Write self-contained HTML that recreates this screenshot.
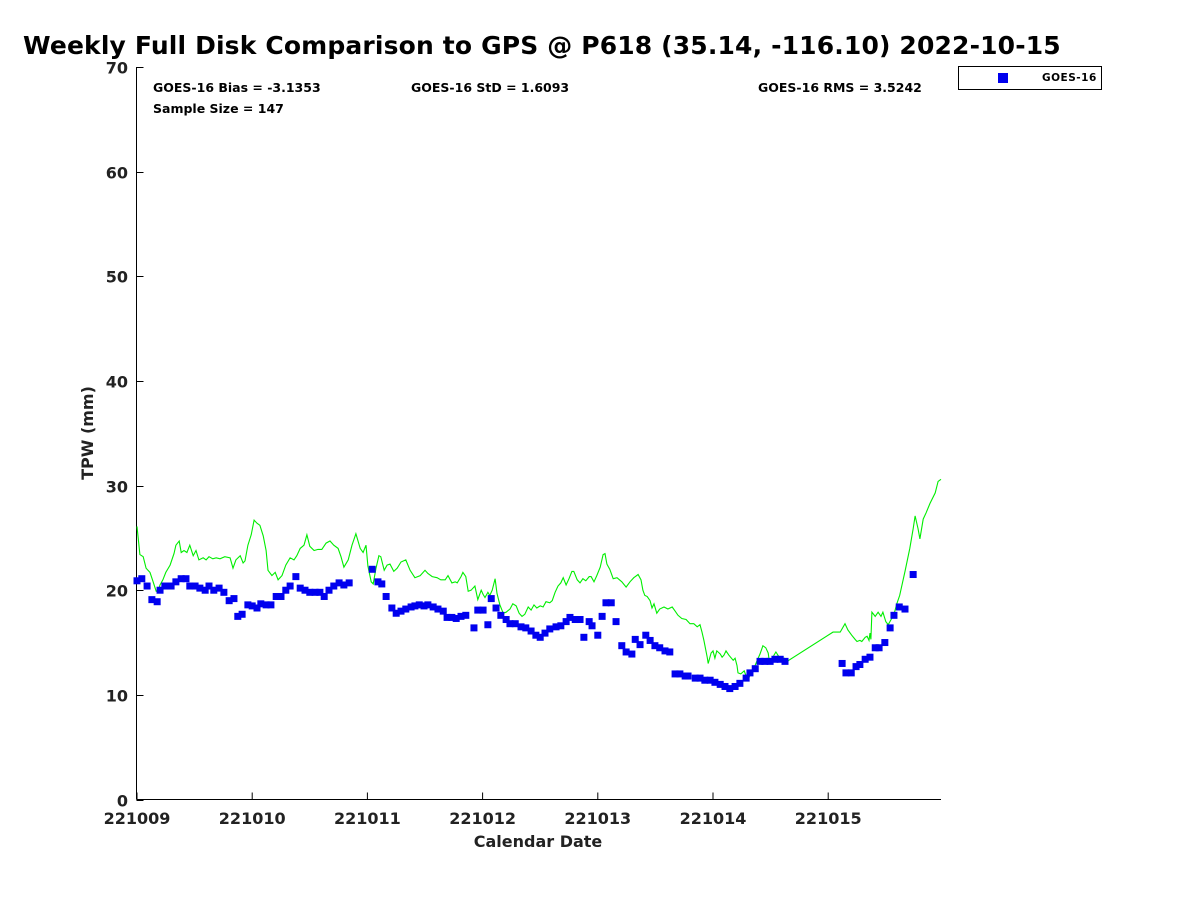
<!DOCTYPE html>
<html><head><meta charset="utf-8">
<style>
html,body{margin:0;padding:0;background:#fff;}
svg{display:block;font-family:"DejaVu Sans","Liberation Sans",sans-serif;font-weight:bold;}
</style></head>
<body>
<svg id="chart" width="1200" height="900" viewBox="0 0 1200 900">
<text x="23" y="54" font-size="25" letter-spacing="0.15" fill="#000">Weekly Full Disk Comparison to GPS @ P618 (35.14, -116.10) 2022-10-15</text>
<g id="axes"></g>
<g id="series"></g>
<text x="153" y="92" font-size="12.5">GOES-16 Bias = -3.1353</text>
<text x="153" y="113" font-size="12.5">Sample Size = 147</text>
<text x="411" y="92" font-size="12.5">GOES-16 StD = 1.6093</text>
<text x="758" y="92" font-size="12.5">GOES-16 RMS = 3.5242</text>
<g>
<rect x="958.5" y="66.5" width="143" height="23" fill="#fff" stroke="#000" stroke-width="1"/>
<rect x="998" y="73" width="10" height="10" fill="#0000ee"/>
<text x="1042" y="81" font-size="10.5" letter-spacing="0.5">GOES-16</text>
</g>
<text x="538" y="847" font-size="16" text-anchor="middle" fill="#222">Calendar Date</text>
<text transform="translate(93,433) rotate(-90)" font-size="16" text-anchor="middle" fill="#222">TPW (mm)</text>
</svg>
<script>
const xTickLabels = ["221009","221010","221011","221012","221013","221014","221015"];
const yTickValues = [0,10,20,30,40,50,60,70];
// GOES-16 retrievals: hours since 2022-10-09 00Z, TPW mm
const goesHours = [0,1.0,2.1,3.1,4.2,4.8,5.8,7.1,8.1,9.2,10.2,11.0,12.1,13.1,14.2,15.0,16.0,17.1,18.1,19.2,20.2,21.0,21.9,23.1,24.0,25.0,25.8,26.9,27.9,29.0,30.0,31.0,31.9,33.1,34.0,35.0,36.0,37.1,38.1,39.0,40.0,41.0,42.1,43.1,44.2,
49.0,50.2,51.0,51.9,53.1,54.0,55.0,56.0,57.1,57.9,58.8,59.8,60.6,61.7,62.7,63.8,64.6,65.6,66.5,67.5,68.5,70.2,71.0,72.1,73.1,73.8,74.8,75.8,76.9,77.7,78.8,80.0,81.0,82.1,83.1,84.0,85.0,86.0,87.3,88.3,89.4,90.2,91.3,92.3,93.1,94.2,94.8,96.0,96.9,97.7,98.8,99.8,101.0,101.9,103.1,103.8,104.8,106.0,106.9,107.9,108.9,110.0,111.0,112.1,113.1,114.2,114.8,116.3,117.3,118.3,119.4,120.4,121.5,122.5,123.5,124.6,125.6,126.9,127.7,128.8,129.8,130.8,131.9,132.9,134.0,135.0,
146.9,147.7,148.8,149.8,150.6,151.7,152.7,153.8,154.6,155.8,156.9,157.7,158.8,160.0,161.7];
const goesTpw = [20.9,21.1,20.4,19.1,18.9,20.0,20.4,20.4,20.8,21.1,21.1,20.4,20.4,20.2,20.0,20.4,20.0,20.2,19.8,19.0,19.2,17.5,17.7,18.6,18.5,18.3,18.7,18.6,18.6,19.4,19.4,20.0,20.4,21.3,20.2,20.0,19.8,19.8,19.8,19.4,20.0,20.4,20.7,20.5,20.7,
22.0,20.8,20.6,19.4,18.3,17.8,18.0,18.2,18.4,18.5,18.6,18.5,18.6,18.4,18.2,18.0,17.4,17.4,17.3,17.5,17.6,16.4,18.1,18.1,16.7,19.2,18.3,17.6,17.2,16.8,16.8,16.5,16.4,16.1,15.7,15.5,15.9,16.3,16.5,16.6,17.0,17.4,17.2,17.2,15.5,17.0,16.6,15.7,17.5,18.8,18.8,17.0,14.7,14.1,13.9,15.3,14.8,15.7,15.2,14.7,14.5,14.2,14.1,12.0,12.0,11.8,11.8,11.6,11.6,11.4,11.4,11.2,11.0,10.8,10.6,10.8,11.1,11.6,12.1,12.5,13.2,13.2,13.2,13.4,13.4,13.2,
13.0,12.1,12.1,12.7,12.9,13.4,13.6,14.5,14.5,15.0,16.4,17.6,18.4,18.2,21.5];
// GPS TPW line
const gpsHours = [0,0.6,1.3,1.9,2.7,3.3,4.0,4.4,4.8,5.4,6.0,6.9,7.7,8.1,8.8,9.2,9.8,10.4,11.0,11.7,12.3,12.9,13.8,14.4,15.0,15.8,16.5,17.3,18.3,19.4,20.0,20.6,21.5,22.1,22.5,23.1,23.8,24.4,25.0,25.6,26.3,26.9,27.3,28.1,28.8,29.4,30.2,31.0,31.9,32.7,33.3,34.0,34.8,35.4,36.0,36.9,37.7,38.5,39.4,40.2,41.0,41.9,42.5,43.1,44.0,44.8,45.6,46.5,47.1,47.7,48.1,48.8,49.2,49.8,50.4,50.8,51.5,52.1,52.7,53.5,54.2,55.0,56.0,56.9,57.9,59.0,60.0,60.6,61.5,62.5,63.3,64.2,64.8,65.6,66.3,66.7,67.5,67.9,68.5,69.0,69.6,70.4,71.0,71.7,72.1,72.5,73.1,73.5,74.0,74.6,75.0,75.6,76.3,76.9,77.7,78.3,79.0,79.6,80.2,80.8,81.5,82.1,82.7,83.3,84.0,84.6,85.2,86.0,86.5,87.1,87.7,88.3,88.8,89.4,90.0,90.6,91.0,91.7,92.3,92.9,93.5,94.2,94.6,95.2,95.8,96.5,97.1,97.5,97.9,98.5,99.2,100.0,101.0,101.9,102.7,103.5,104.4,105.0,105.4,105.8,106.3,106.9,107.3,107.7,108.3,108.9,109.8,110.6,111.5,112.1,112.7,113.5,114.4,115.2,116.0,116.7,117.3,117.7,118.1,118.8,119.0,119.6,120.0,120.4,120.8,121.5,121.9,122.3,122.7,123.3,124.2,124.6,125.0,125.2,125.8,126.5,126.9,127.3,127.9,128.5,129.2,129.8,130.4,131.0,131.5,131.7,132.3,132.7,133.1,133.8,134.2,134.8,135.2,135.8,145.0,145.6,146.5,147.5,148.1,148.9,149.6,150.0,150.6,151.0,151.7,152.1,152.5,152.7,152.9,153.1,153.8,154.4,155.0,155.4,156.0,156.5,157.1,157.7,158.3,158.9,160.0,161.0,161.7,162.1,162.7,163.1,163.8,164.4,165.2,166.3,166.9,167.5];
const gpsTpw = [26.1,23.4,23.2,22.1,21.7,20.9,19.9,19.9,20.5,21.0,21.7,22.4,23.5,24.3,24.7,23.6,23.8,23.6,24.3,23.3,23.8,22.9,23.1,22.9,23.2,23.0,23.1,23.0,23.2,23.1,22.1,22.9,23.3,22.6,22.8,24.3,25.3,26.7,26.4,26.2,25.2,23.8,21.9,21.4,21.7,21.0,21.4,22.4,23.1,22.9,23.3,24.0,24.3,25.3,24.2,23.8,23.9,23.9,24.5,24.7,24.3,24.0,23.2,22.2,22.9,24.3,25.4,24.0,23.6,24.3,22.3,20.8,20.6,22.1,23.3,23.2,21.9,22.4,22.5,21.8,22.1,22.7,22.9,21.9,21.2,21.4,21.9,21.6,21.3,21.2,21.0,21.0,21.4,20.7,20.8,20.7,21.3,21.7,21.3,19.9,20.0,20.4,19.1,20.0,19.6,19.3,19.8,19.5,20.0,21.1,19.7,18.6,17.8,17.9,18.2,18.7,18.5,17.8,17.5,17.7,18.4,18.1,18.6,18.3,18.5,18.4,18.9,18.8,19.0,19.8,20.4,20.7,21.2,20.5,21.1,21.8,21.8,21.0,20.7,21.1,20.9,21.3,21.3,20.8,21.4,22.2,23.4,23.5,22.5,22.0,21.1,21.2,20.8,20.3,20.8,21.2,21.5,21.0,20.0,19.5,19.4,19.0,18.3,18.7,17.8,18.2,18.4,18.2,18.4,18.0,17.6,17.3,17.2,16.8,16.8,16.5,16.7,16.0,15.2,13.6,13.0,14.0,14.2,13.5,14.2,13.9,13.6,13.8,14.2,13.8,13.3,13.5,12.8,12.1,12.0,12.3,11.8,11.4,12.1,12.5,13.3,13.9,14.7,14.5,14.0,13.3,13.3,13.8,14.1,13.6,13.3,13.5,13.0,13.3,16.0,16.0,16.0,16.8,16.2,15.7,15.3,15.1,15.2,15.1,15.5,15.6,15.2,15.9,15.3,17.9,17.5,17.9,17.5,17.9,17.0,16.7,17.2,17.7,18.7,19.5,21.8,24.0,25.9,27.1,25.9,24.9,26.8,27.4,28.3,29.3,30.4,30.6];

const L=136.5, R=941, T=67, B=799.5, XMAX=167.5, YMAX=70;
const xs = h => 137 + (h/XMAX)*(R-137);
const ys = v => B - (v/YMAX)*(B-T);
const NS="http://www.w3.org/2000/svg";
function mk(tag, attrs, parent){const e=document.createElementNS(NS,tag);for(const k in attrs)e.setAttribute(k,attrs[k]);parent.appendChild(e);return e;}
const axes=document.getElementById('axes'), series=document.getElementById('series');

let ax=mk('line',{x1:L,y1:T,x2:L,y2:B,stroke:'#000','stroke-width':1},axes);


let bx=mk('line',{x1:L,y1:B,x2:R,y2:B,stroke:'#000','stroke-width':1},axes);



yTickValues.forEach(v=>{
  const y=Math.round(ys(v))+0.5;
  const t=mk('line',{x1:L,y1:y,x2:L+7,y2:y,stroke:'#000'},axes);
  
  
  const tx=mk('text',{x:128,y:y+6,'font-size':16,'text-anchor':'end',fill:'#222'},axes);
  tx.textContent=String(v);
  
  
});
xTickLabels.forEach((lab,i)=>{
  const x=xs(i*24);
  const t=mk('line',{x1:x,y1:B,x2:x,y2:B-7,stroke:'#000'},axes);
  
  
  const tx=mk('text',{x:x,y:824,'font-size':16,'text-anchor':'middle',fill:'#222'},axes);
  tx.textContent=lab;
  
  
});

const pts=gpsHours.map((h,i)=>xs(h).toFixed(1)+','+ys(gpsTpw[i]).toFixed(1)).join(' ');
const pl=mk('polyline',{points:pts,fill:'none',stroke:'#00ee00','stroke-width':1.1},series);



goesHours.forEach((h,i)=>{
  const r=mk('rect',{x:xs(h)-3.5,y:ys(goesTpw[i])-3.5,width:7,height:7,fill:'#0000ee'},series);
  
  
});
</script>
</body></html>
